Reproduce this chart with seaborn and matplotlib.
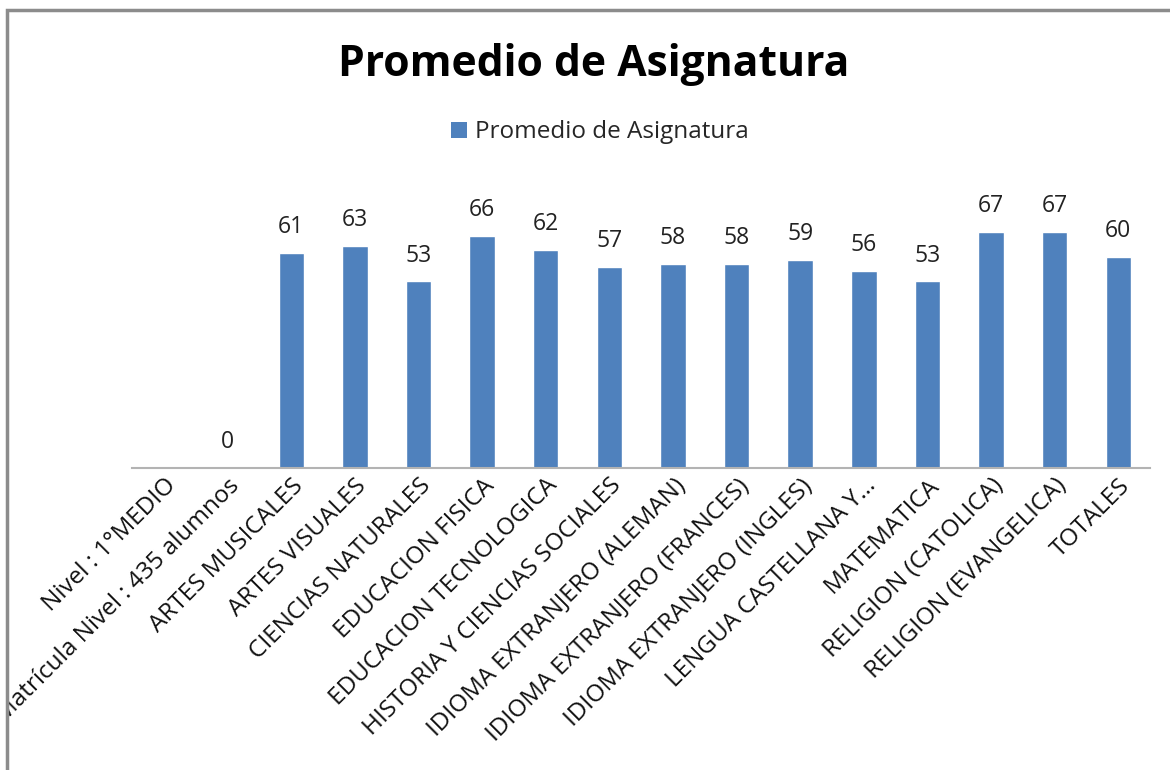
import numpy as np
import pandas as pd
import matplotlib
matplotlib.use("Agg")
import matplotlib.pyplot as plt
from matplotlib.patches import Patch, Rectangle
from matplotlib.transforms import Bbox
import seaborn as sns

# Datos del grafico
categorias = [
    "Nivel : 1°MEDIO",
    "Matrícula Nivel : 435 alumnos",
    "ARTES MUSICALES",
    "ARTES VISUALES",
    "CIENCIAS NATURALES",
    "EDUCACION FISICA",
    "EDUCACION TECNOLOGICA",
    "HISTORIA Y CIENCIAS SOCIALES",
    "IDIOMA EXTRANJERO (ALEMAN)",
    "IDIOMA EXTRANJERO (FRANCES)",
    "IDIOMA EXTRANJERO (INGLES)",
    "LENGUA CASTELLANA Y…",
    "MATEMATICA",
    "RELIGION (CATOLICA)",
    "RELIGION (EVANGELICA)",
    "TOTALES",
]
promedios = [np.nan, 0, 61, 63, 53, 66, 62, 57, 58, 58, 59, 56, 53, 67, 67, 60]
serie = "Promedio de Asignatura"

sns.set_style("white")
plt.rcParams['font.family'] = ['Open Sans', 'DejaVu Sans']

df = pd.DataFrame({"asignatura": categorias, "promedio": promedios})

fig = plt.figure(figsize=(11.7, 7.7), dpi=100)
ax = fig.add_axes([0.113, 0.392, 0.87, 0.366])

sns.barplot(data=df, x="asignatura", y="promedio", order=categorias,
            color="#4F81BD", saturation=1, width=0.4, ax=ax)

ax.set_ylim(0, 80)
ax.set_xlim(-0.5, len(categorias) - 0.5)

# etiquetas de datos
for cont in ax.containers:
    labels = ["" if np.isnan(v) else f"{v:.0f}" for v in cont.datavalues]
    ax.bar_label(cont, labels=labels, padding=10, fontsize=16.5, color="#222222")

# ejes
ax.set_xlabel("")
ax.set_ylabel("")
ax.set_yticks([])
for s in ["left", "right", "top"]:
    ax.spines[s].set_visible(False)
ax.spines["bottom"].set_color("#b3b3b3")
ax.spines["bottom"].set_linewidth(1.5)
ax.tick_params(axis="x", length=0, pad=4)
ax.set_xticks(range(len(categorias)))
ax.set_xticklabels(categorias, rotation=45, ha="right",
                   rotation_mode="anchor", fontsize=17.5, color="#111111")

# recorte de etiquetas en el borde del grafico
clip = Bbox.from_extents(8, 0, 1170, 770)
for lbl in ax.get_xticklabels():
    lbl.set_clip_box(clip)
    lbl.set_clip_on(True)

# titulo y leyenda
fig.text(0.507, 0.916, serie, ha="center", va="center",
         fontsize=30.7, fontweight="bold", color="#000000")
handle = Patch(facecolor="#4F81BD", edgecolor="none", label=serie)
fig.legend(handles=[handle], loc="center", bbox_to_anchor=(0.513, 0.828),
           frameon=False, fontsize=17.5, handlelength=0.65, handleheight=0.65,
           handletextpad=0.35)

# borde del area del grafico
fig.patches.append(Rectangle((7 / 1170, -0.1), 1.2, 1.1 - 10 / 770,
                             transform=fig.transFigure, fill=False,
                             edgecolor="#8c8c8c", linewidth=2.5))

fig.savefig("out.png", dpi=100)
